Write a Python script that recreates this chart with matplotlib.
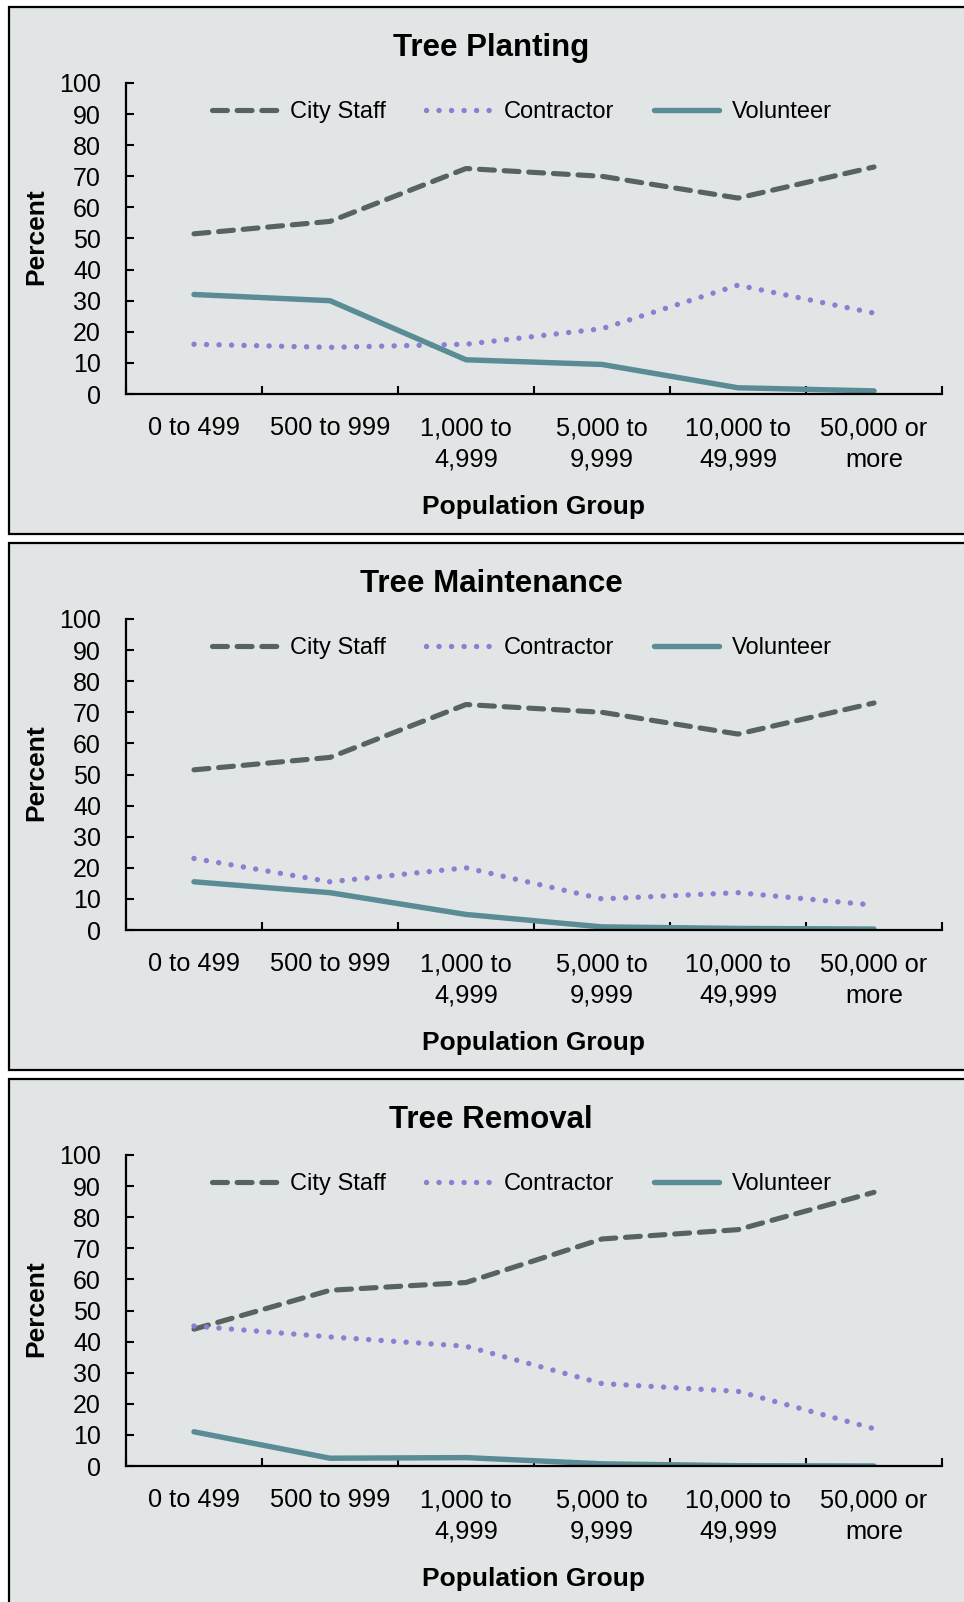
import matplotlib
matplotlib.use('Agg')
import matplotlib.pyplot as plt
from matplotlib.patches import Rectangle
from matplotlib.ticker import FixedLocator, NullFormatter, FixedFormatter

plt.rcParams['font.family'] = ['Liberation Sans', 'DejaVu Sans']

categories = ['0 to 499', '500 to 999', '1,000 to\n4,999', '5,000 to\n9,999',
              '10,000 to\n49,999', '50,000 or\nmore']
titles = ['Tree Planting', 'Tree Maintenance', 'Tree Removal']
series_names = ['City Staff', 'Contractor', 'Volunteer']
y_ticks = [0, 10, 20, 30, 40, 50, 60, 70, 80, 90, 100]

planting_city = [51.5, 55.5, 72.5, 70, 63, 73]
planting_contractor = [16, 15, 16, 21, 35, 26]
planting_volunteer = [32, 30, 11, 9.5, 2, 1]

maintenance_city = [51.5, 55.5, 72.5, 70, 63, 73]
maintenance_contractor = [23, 15.5, 20, 10, 12, 8]
maintenance_volunteer = [15.5, 12, 5, 1, 0.5, 0.3]

removal_city = [44, 56.5, 59, 73, 76, 88]
removal_contractor = [45, 41.5, 38.5, 26.5, 24, 12]
removal_volunteer = [11, 2.5, 2.7, 0.7, 0.1, 0]

panels = [
    (planting_city, planting_contractor, planting_volunteer),
    (maintenance_city, maintenance_contractor, maintenance_volunteer),
    (removal_city, removal_contractor, removal_volunteer),
]

BG = '#E1E5E5'
C_CITY = '#566361'
C_CONT = '#8B7FD1'
C_VOL = '#5A8C96'

W, H = 964, 1602
fig = plt.figure(figsize=(W / 100, H / 100), dpi=100, facecolor='white')


def fx(px):
    return px / W


def fy(py):
    return 1 - py / H


x = list(range(len(categories)))

for i, (title, (city, cont, vol)) in enumerate(zip(titles, panels)):
    T = 7 + 536 * i
    # panel box
    fig.add_artist(Rectangle((fx(9), fy(T + 527)), fx(980 - 9), 527 / H,
                             transform=fig.transFigure, facecolor=BG,
                             edgecolor='black', linewidth=1.6, zorder=0))
    ax = fig.add_axes([fx(126), fy(T + 387), fx(942 - 126), (387 - 76) / H])
    ax.set_facecolor('none')

    ax.plot(x, city, color=C_CITY, lw=3.7, linestyle=(0, (2.9, 1.9)),
            dash_capstyle='round', solid_capstyle='round', label=series_names[0])
    ax.plot(x, cont, color=C_CONT, lw=3.9, linestyle=(0, (0.01, 2.3)),
            dash_capstyle='round', label=series_names[1])
    ax.plot(x, vol, color=C_VOL, lw=3.9, solid_capstyle='round',
            label=series_names[2])

    ax.set_xlim(-0.5, len(categories) - 0.5)
    ax.set_ylim(0, 100)
    ax.set_yticks(y_ticks)
    ax.tick_params(axis='y', direction='in', length=6, width=1.5,
                   labelsize=18, pad=18)
    ax.xaxis.set_major_locator(FixedLocator([k - 0.5 for k in range(len(categories) + 1)]))
    ax.xaxis.set_major_formatter(NullFormatter())
    ax.xaxis.set_minor_locator(FixedLocator(x))
    ax.xaxis.set_minor_formatter(FixedFormatter(categories))
    ax.tick_params(axis='x', which='major', direction='in', length=6, width=1.5)
    ax.tick_params(axis='x', which='minor', length=0, labelsize=18.3, pad=16)
    for lab in ax.get_xticklabels(minor=True):
        lab.set_linespacing(1.4)
    for s in ['top', 'right']:
        ax.spines[s].set_visible(False)
    for s in ['left', 'bottom']:
        ax.spines[s].set_linewidth(1.6)
        ax.spines[s].set_color('black')

    ax.legend(loc='center', bbox_to_anchor=(0.485, 0.906), ncol=3,
              frameon=False, fontsize=17, handlelength=2.75,
              handletextpad=0.55, columnspacing=1.7)

    fig.text(fx(491), fy(T + 41), title, ha='center', va='center',
             fontsize=22.5, fontweight='bold')
    fig.text(fx(534), fy(T + 500), 'Population Group', ha='center',
             va='center', fontsize=19, fontweight='bold')
    fig.text(fx(36), fy(T + 230), 'Percent', ha='center', va='center',
             rotation=90, fontsize=19, fontweight='bold')

fig.savefig('out.png', dpi=100, facecolor='white')
